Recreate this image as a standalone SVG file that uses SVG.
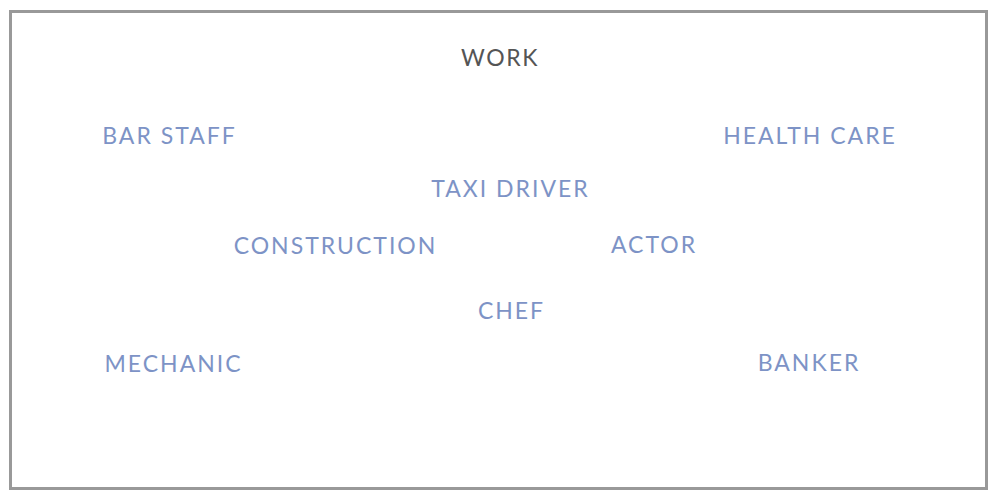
<svg xmlns="http://www.w3.org/2000/svg" width="1000" height="500" viewBox="0 0 1000 500">
<style>
.t{font-family:Lato,"Noto Sans","Liberation Sans",sans-serif;font-size:23px;letter-spacing:2px;text-anchor:middle;fill:#7d93c6}
.h{fill:#555555;letter-spacing:1.6px}
</style>
<rect x="0" y="0" width="1000" height="500" fill="#ffffff"/>
<rect x="10.5" y="11.5" width="976" height="477" fill="none" stroke="#999999" stroke-width="3"/>
<g id="title"><text class="t h" x="500" y="66">WORK</text></g>
<g id="bar-staff"><text class="t" x="169.5" y="144">BAR STAFF</text></g>
<g id="health-care"><text class="t" x="810" y="144">HEALTH CARE</text></g>
<g id="taxi-driver"><text class="t" x="510.5" y="197">TAXI DRIVER</text></g>
<g id="construction"><text class="t" x="335.5" y="254">CONSTRUCTION</text></g>
<g id="actor"><text class="t" x="654" y="253">ACTOR</text></g>
<g id="chef"><text class="t" x="511.5" y="319">CHEF</text></g>
<g id="mechanic"><text class="t" x="173.5" y="372">MECHANIC</text></g>
<g id="banker"><text class="t" x="809" y="371">BANKER</text></g>
<g id="connectors"></g>
</svg>
